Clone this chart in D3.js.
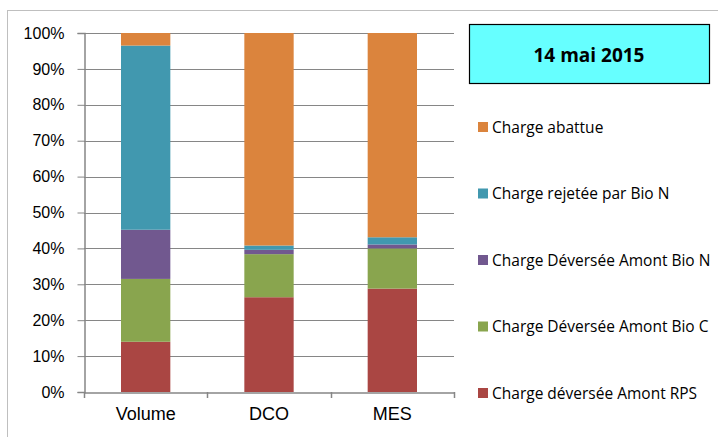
<!DOCTYPE html>
<html>
<head>
<meta charset="utf-8">
<script src="https://cdn.jsdelivr.net/npm/d3@7"></script>
<style>
  body { margin: 0; background: #fff; }
  svg { display: block; font-family: "Open Sans", "Liberation Sans", sans-serif; }
</style>
</head>
<body>
<svg id="chart" width="718" height="437"></svg>
<script>
// data (percent of total)
var categories = ['Volume', 'DCO', 'MES'];
var seriesNames = ['Charge déversée Amont RPS', 'Charge Déversée Amont Bio C', 'Charge Déversée Amont Bio N', 'Charge rejetée par Bio N', 'Charge abattue'];
var rps   = [14.0, 26.4, 28.8];
var bioC  = [17.5, 12.0, 11.2];
var bioN  = [13.7, 1.2, 1.1];
var rejet = [51.3, 1.2, 2.0];
var abat  = [3.5, 59.2, 56.9];
var yTicks = [0, 10, 20, 30, 40, 50, 60, 70, 80, 90, 100];
var title = '14 mai 2015';

var colors = ['#AA4643', '#89A54E', '#71588F', '#4198AF', '#DB843D'];
var values = [rps, bioC, bioN, rejet, abat];

var rows = categories.map(function (c, i) {
  var r = { cat: c };
  seriesNames.forEach(function (s, k) { r[s] = values[k][i]; });
  return r;
});
var stacked = d3.stack().keys(seriesNames)(rows);

var svg = d3.select('#chart');
var m = { left: 84, right: 454, top: 33, bottom: 392 };

// outer frame
svg.append('rect')
  .attr('x', 7.5).attr('y', 10.5)
  .attr('width', 720).attr('height', 440)
  .attr('fill', 'none').attr('stroke', '#bfbfbf');

var x = d3.scaleBand().domain(categories).range([m.left, m.right]).paddingInner(0.6).paddingOuter(0.3);
var xc = d3.scaleBand().domain(categories).range([m.left, m.right]);
var y = d3.scaleLinear().domain([0, 100]).range([m.bottom, m.top]);

// gridlines
svg.append('g').selectAll('line')
  .data(yTicks.slice(1))
  .enter().append('line')
  .attr('x1', m.left).attr('x2', m.right)
  .attr('y1', function (d) { return Math.round(y(d)) + 0.5; })
  .attr('y2', function (d) { return Math.round(y(d)) + 0.5; })
  .attr('stroke', '#868686').attr('stroke-width', 1);

// bars
svg.append('g').selectAll('g')
  .data(stacked)
  .enter().append('g')
  .attr('fill', function (d, i) { return colors[i]; })
  .selectAll('rect')
  .data(function (d) { return d; })
  .enter().append('rect')
  .attr('x', function (d) { return x(d.data.cat); })
  .attr('width', x.bandwidth())
  .attr('y', function (d) { return y(d[1]); })
  .attr('height', function (d) { return y(d[0]) - y(d[1]); });

// y axis
var yAxis = svg.append('g')
  .attr('transform', 'translate(' + (m.left + 0.5) + ',0)')
  .call(d3.axisLeft(y).tickValues(yTicks).tickSize(7).tickPadding(13)
    .tickFormat(function (d) { return d + '%'; }));
yAxis.select('.domain').attr('stroke', '#868686').attr('stroke-width', 1.5);
yAxis.selectAll('.tick line').attr('stroke', '#868686');
yAxis.selectAll('text').attr('font-size', 16).attr('fill', '#000');

// x axis
var xAxis = svg.append('g')
  .attr('transform', 'translate(0,' + (m.bottom + 0.5) + ')')
  .call(d3.axisBottom(xc).tickSize(0).tickPadding(15));
xAxis.select('.domain').attr('stroke', '#868686').attr('stroke-width', 1.5);
xAxis.selectAll('text').attr('font-size', 18).attr('fill', '#000');
svg.append('g').selectAll('line')
  .data(d3.range(categories.length + 1))
  .enter().append('line')
  .attr('x1', function (i) { return Math.round(m.left + i * xc.step()) + 0.5; })
  .attr('x2', function (i) { return Math.round(m.left + i * xc.step()) + 0.5; })
  .attr('y1', m.bottom).attr('y2', m.bottom + 6)
  .attr('stroke', '#868686').attr('stroke-width', 1.5);

// title box
svg.append('rect')
  .attr('x', 469.5).attr('y', 24.5).attr('width', 240).attr('height', 59)
  .attr('fill', '#66FFFF').attr('stroke', '#000').attr('stroke-width', 1.2);
svg.append('text')
  .attr('x', 589).attr('y', 62)
  .attr('text-anchor', 'middle')
  .attr('font-size', 19).attr('font-weight', 'bold')
  .text(title);

// legend (top to bottom reversed order)
var legendY = d3.scalePoint().domain(seriesNames.slice().reverse()).range([127, 393]);
var lg = svg.append('g').selectAll('g')
  .data(seriesNames)
  .enter().append('g')
  .attr('transform', function (d) { return 'translate(478,' + legendY(d) + ')'; });
lg.append('rect')
  .attr('x', 0).attr('y', -5).attr('width', 10).attr('height', 10)
  .attr('fill', function (d, i) { return colors[i]; });
lg.append('text')
  .attr('x', 14).attr('y', 5.5)
  .attr('font-size', 15.5)
  .attr('fill', '#000')
  .text(function (d) { return d; });
</script>
</body>
</html>
